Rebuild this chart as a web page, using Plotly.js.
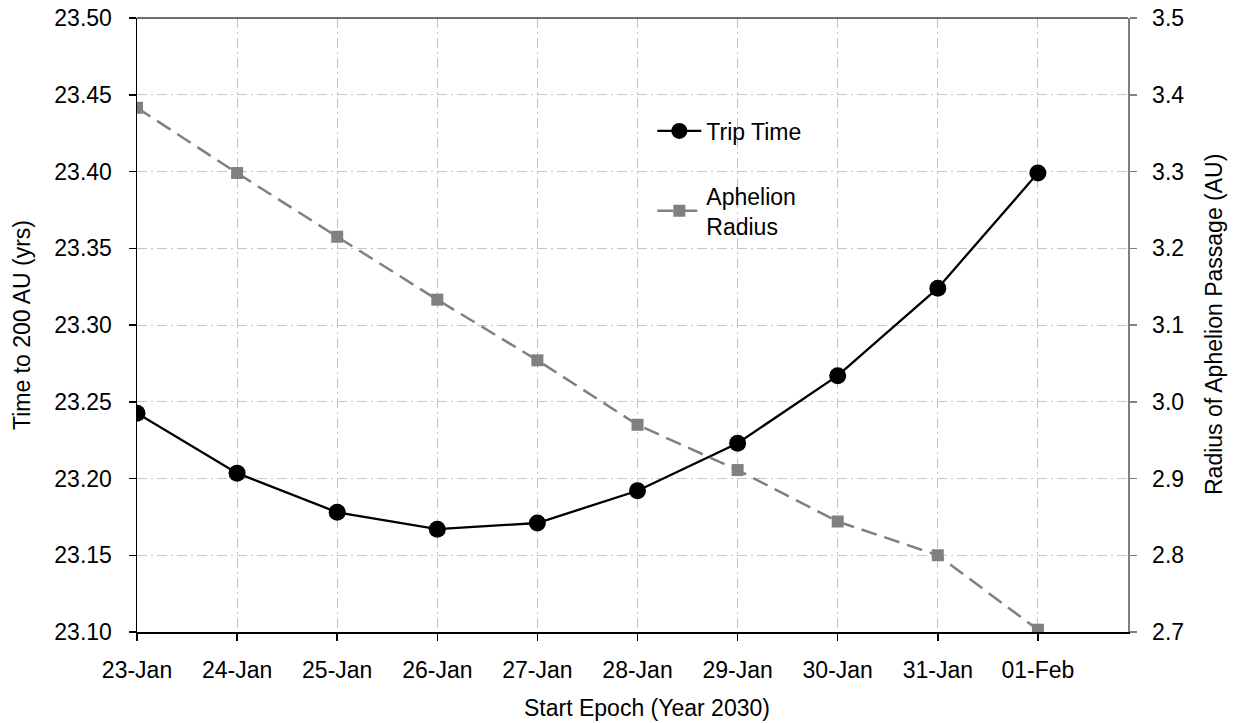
<!DOCTYPE html>
<html>
<head>
<meta charset="utf-8">
<script src="https://cdn.plot.ly/plotly-3.0.1.min.js"></script>
<style>html,body{margin:0;padding:0;background:#fff;}#chart{width:1234px;height:723px;}</style>
</head>
<body>
<div id="chart"></div>
<script>
const categories = ["23-Jan","24-Jan","25-Jan","26-Jan","27-Jan","28-Jan","29-Jan","30-Jan","31-Jan","01-Feb"];
const tripTime = [23.2425, 23.2035, 23.178, 23.167, 23.171, 23.192, 23.223, 23.267, 23.324, 23.399];
const aphelionRadius = [3.383, 3.298, 3.215, 3.133, 3.054, 2.970, 2.911, 2.844, 2.800, 2.703];
const xIndex = categories.map((c, i) => i);

const FONT = '"Liberation Sans", Arial, Helvetica, sans-serif';

const traces = [
  {
    x: xIndex, y: aphelionRadius, name: "Aphelion<br>Radius", yaxis: "y2",
    type: "scatter", mode: "lines+markers",
    line: {color: "#808080", width: 2.5, dash: "16px,8px"},
    marker: {symbol: "square", size: 12, color: "#808080"},
    legend: "legend2"
  },
  {
    x: xIndex, y: tripTime, name: "Trip Time", yaxis: "y",
    type: "scatter", mode: "lines+markers",
    line: {color: "#000000", width: 2.3},
    marker: {symbol: "circle", size: 17, color: "#000000"},
    legend: "legend"
  }
];

const layout = {
  width: 1234, height: 723,
  margin: {l: 137, r: 106, t: 18, b: 91},
  paper_bgcolor: "#ffffff", plot_bgcolor: "#ffffff",
  font: {family: FONT, size: 23, color: "#000000"},
  showlegend: true,
  xaxis: {
    range: [0, 9.9], tickvals: xIndex, ticktext: categories,
    showgrid: true, gridcolor: "#c4c4c4", gridwidth: 1, griddash: "10px,4px,2px,4px",
    showline: true, linecolor: "#000000", linewidth: 2,
    ticks: "outside", ticklen: 7, tickcolor: "#000000", tickwidth: 1.5,
    ticklabelstandoff: 9,
    zeroline: false, tickfont: {size: 23}
  },
  yaxis: {
    range: [23.10, 23.50], dtick: 0.05, tick0: 23.10, tickformat: ".2f",
    showgrid: true, gridcolor: "#c4c4c4", gridwidth: 1, griddash: "10px,4px,2px,4px",
    showline: true, linecolor: "#000000", linewidth: 1.5,
    ticks: "outside", ticklen: 7, tickcolor: "#000000", tickwidth: 1.5,
    ticklabelstandoff: 12,
    zeroline: false, tickfont: {size: 23}
  },
  yaxis2: {
    overlaying: "y", side: "right",
    range: [2.7, 3.5], dtick: 0.1, tick0: 2.7, tickformat: ".1f",
    showgrid: false,
    showline: true, linecolor: "#808080", linewidth: 1.5,
    ticks: "outside", ticklen: 7, tickcolor: "#808080", tickwidth: 1.5,
    ticklabelstandoff: 11,
    zeroline: false, tickfont: {size: 23}
  },
  legend: {
    x: 0.52, y: 0.816, xanchor: "left", yanchor: "middle",
    bgcolor: "rgba(0,0,0,0)", borderwidth: 0, itemwidth: 44,
    font: {size: 23, family: FONT}
  },
  legend2: {
    x: 0.52, y: 0.686, xanchor: "left", yanchor: "middle",
    bgcolor: "rgba(0,0,0,0)", borderwidth: 0, itemwidth: 44,
    font: {size: 23, family: FONT}
  },
  shapes: [
    {type: "line", xref: "paper", yref: "paper", x0: 0, x1: 1, y0: 1, y1: 1,
     line: {color: "#404040", width: 1.5}}
  ],
  annotations: [
    {text: "Start Epoch (Year 2030)", xref: "paper", yref: "paper", x: 0.5146, y: -0.124,
     xanchor: "center", yanchor: "middle", showarrow: false, font: {size: 23}},
    {text: "Time to 200 AU (yrs)", xref: "paper", yref: "paper", x: -0.116, y: 0.5,
     xanchor: "center", yanchor: "middle", textangle: -90, showarrow: false, font: {size: 23}},
    {text: "Radius of Aphelion Passage (AU)", xref: "paper", yref: "paper", x: 1.0868, y: 0.5,
     xanchor: "center", yanchor: "middle", textangle: -90, showarrow: false, font: {size: 23}}
  ]
};

Plotly.newPlot("chart", traces, layout, {displayModeBar: false, staticPlot: true});
</script>
</body>
</html>
